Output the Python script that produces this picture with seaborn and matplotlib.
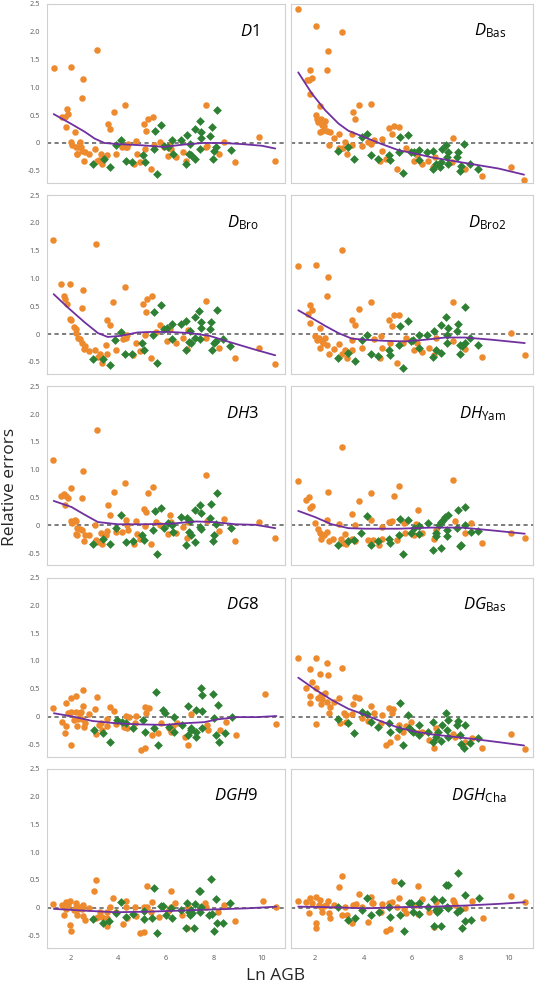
import numpy as np
import pandas as pd
import matplotlib.pyplot as plt
import seaborn as sns
from matplotlib.ticker import MultipleLocator, FuncFormatter

ORANGE = '#EE8A2E'
GREEN = '#2E8034'
PURPLE = '#7030A0'

# (Ln AGB, relative error)
d1_orange = [(1.28,1.35),(1.62,0.46),(1.76,0.47),(1.83,0.62),(1.80,0.29),(1.87,0.52),(2.01,1.37),(2.01,0.02),(2.03,-0.04),(2.17,0.19),(2.20,-0.07),(2.24,-0.20),(2.26,-0.19),(2.31,-0.07),(2.38,0.01),(2.42,-0.07),(2.45,-0.14),(2.52,1.15),(2.49,0.81),(2.56,-0.32),(2.61,-0.16),(2.75,-0.20),(3.00,-0.11),(3.08,1.68),(3.08,-0.32),(3.18,-0.31),(3.25,-0.20),(3.30,-0.38),(3.41,-0.28),(3.52,-0.22),(3.55,0.34),(3.65,0.25),(3.80,0.55),(3.90,-0.19),(4.28,0.68),(4.17,-0.07),(4.31,-0.08),(4.35,-0.07),(4.41,-0.02),(4.66,-0.37),(4.72,0.04),(4.77,-0.19),(4.90,-0.34),(5.07,0.34),(5.10,-0.10),(5.17,0.22),(5.25,0.43),(5.46,0.46),(5.37,-0.47),(5.48,-0.04),(5.73,0.01),(5.90,-0.08),(6.08,-0.23),(6.17,-0.04),(6.20,-0.11),(6.42,-0.26),(6.72,-0.16),(6.86,-0.32),(7.69,0.68),(7.72,-0.05),(7.66,-0.07),(8.21,-0.20),(8.45,0.01),(8.88,-0.35),(9.92,0.10),(10.59,-0.33)]
d1_green = [(2.93,-0.38),(3.39,-0.29),(3.63,-0.44),(3.90,-0.03),(4.13,0.05),(4.31,-0.32),(4.59,-0.35),(5.04,-0.22),(5.10,-0.34),(5.48,-0.11),(5.52,0.22),(5.62,-0.56),(5.81,0.33),(5.90,-0.05),(6.08,-0.07),(6.27,0.05),(6.28,-0.19),(6.61,0.05),(6.83,-0.37),(6.88,0.14),(6.97,-0.20),(7.00,-0.02),(7.03,-0.22),(7.21,-0.28),(7.22,0.25),(7.41,0.40),(7.48,0.19),(7.44,-0.11),(7.47,0.09),(7.83,0.13),(7.92,0.28),(7.97,-0.29),(8.02,-0.14),(8.10,-0.07),(8.14,0.60),(8.72,-0.13)]
d1_curve = [(1.28,0.52),(2.03,0.34),(2.59,0.20),(3.00,0.08),(3.41,0.00),(3.97,-0.02),(4.93,-0.04),(5.90,-0.07),(6.72,-0.03),(7.55,0.00),(8.38,0.00),(9.20,-0.02),(10.03,-0.05),(10.59,-0.10)]

dbas_orange = [(1.28,2.41),(2.02,2.11),(3.10,2.00),(2.54,1.66),(1.80,1.31),(2.49,1.31),(1.65,1.14),(1.74,1.14),(1.86,1.17),(1.79,0.89),(2.20,0.66),(3.81,0.69),(4.30,0.71),(3.55,0.55),(2.02,0.50),(3.65,0.44),(2.06,0.43),(2.24,0.43),(2.41,0.40),(2.13,0.37),(2.30,0.32),(2.38,0.31),(2.21,0.19),(2.27,0.22),(2.48,0.22),(2.63,0.19),(2.79,0.09),(3.00,0.16),(3.23,0.02),(3.51,0.16),(2.59,-0.03),(2.99,-0.09),(3.14,-0.09),(3.32,-0.20),(3.54,-0.04),(3.92,-0.05),(4.20,0.02),(4.41,0.05),(4.31,-0.02),(4.74,0.07),(4.75,-0.14),(4.67,-0.32),(4.92,-0.29),(5.06,0.27),(5.17,0.16),(5.26,0.31),(5.47,0.29),(5.37,-0.46),(5.74,-0.09),(6.09,-0.32),(6.20,-0.22),(6.41,-0.37),(6.68,-0.33),(6.88,-0.44),(6.97,-0.25),(7.69,0.09),(7.65,-0.34),(8.20,-0.47),(8.89,-0.59),(10.08,-0.44),(10.63,-0.66)]
dbas_green = [(2.96,-0.14),(3.37,-0.08),(3.62,-0.28),(3.92,0.11),(4.14,0.16),(4.31,-0.22),(4.61,-0.28),(5.03,-0.21),(5.08,-0.31),(5.52,0.10),(5.83,0.14),(5.48,-0.17),(5.62,-0.54),(5.97,-0.16),(6.10,-0.17),(6.27,-0.13),(6.30,-0.31),(6.64,-0.16),(6.88,-0.14),(6.99,-0.38),(7.17,-0.44),(6.86,-0.47),(7.23,-0.11),(7.39,-0.04),(7.48,-0.17),(7.44,-0.25),(7.48,-0.37),(7.90,-0.17),(7.84,-0.25),(8.16,-0.02),(8.03,-0.41),(7.97,-0.51),(8.41,-0.37),(8.71,-0.47),(7.21,-0.34)]
dbas_curve = [(1.30,1.27),(1.86,0.89),(2.41,0.59),(2.96,0.35),(3.37,0.22),(4.06,0.10),(4.75,-0.02),(5.44,-0.13),(6.13,-0.19),(6.82,-0.26),(7.65,-0.32),(8.48,-0.38),(9.58,-0.46),(10.63,-0.57)]

dbro_orange = [(1.25,1.69),(1.58,0.91),(1.98,0.91),(1.70,0.68),(1.76,0.64),(1.83,0.55),(1.98,0.28),(2.01,0.26),(2.14,0.13),(2.20,0.10),(2.21,0.03),(2.31,-0.06),(2.37,-0.09),(2.45,-0.16),(2.56,-0.26),(2.61,-0.22),(2.75,-0.31),(2.52,0.79),(2.46,0.47),(3.00,-0.29),(3.06,1.63),(3.14,-0.41),(3.23,-0.36),(3.30,-0.51),(3.48,-0.19),(3.50,-0.36),(3.52,0.25),(3.63,0.16),(3.79,0.57),(3.88,-0.28),(4.19,-0.09),(4.27,0.85),(4.31,-0.07),(4.38,-0.01),(4.63,-0.38),(4.72,-0.15),(4.89,-0.31),(5.04,0.54),(5.15,0.40),(5.21,0.64),(5.43,0.68),(5.10,-0.01),(5.36,-0.43),(5.59,0.04),(5.73,0.16),(6.06,-0.13),(6.17,0.10),(6.41,-0.16),(6.70,-0.07),(6.89,-0.26),(6.94,0.08),(7.69,0.59),(7.66,-0.06),(8.21,-0.24),(8.88,-0.42),(9.92,-0.24),(10.59,-0.54)]
dbro_green = [(2.93,-0.45),(3.36,-0.44),(3.63,-0.56),(3.87,-0.11),(4.12,0.04),(4.28,-0.36),(4.59,-0.36),(4.99,-0.16),(5.07,-0.29),(5.44,-0.01),(5.50,0.39),(5.62,-0.52),(5.80,0.52),(5.90,0.09),(6.03,0.11),(6.26,0.19),(6.27,-0.08),(6.61,0.18),(6.83,-0.29),(6.86,0.24),(6.97,-0.14),(7.00,0.06),(7.03,-0.16),(7.21,-0.06),(7.22,0.31),(7.39,0.41),(7.47,0.22),(7.44,-0.08),(7.47,0.11),(7.83,0.10),(7.91,0.22),(7.95,-0.28),(8.01,-0.16),(8.10,-0.12),(8.13,0.43),(8.41,-0.08),(8.71,-0.22)]
dbro_curve = [(1.28,0.72),(1.90,0.47),(2.59,0.21),(3.14,0.02),(3.55,-0.05),(4.10,-0.03),(4.79,0.03),(5.34,0.04),(6.17,0.04),(7.00,0.02),(7.83,-0.03),(8.66,-0.14),(9.76,-0.28),(10.59,-0.38)]

dbro2_orange = [(1.28,1.22),(2.02,1.24),(3.10,1.51),(2.54,1.02),(2.49,0.69),(1.80,0.52),(1.72,0.37),(1.86,0.43),(1.79,0.21),(2.20,0.11),(1.99,-0.03),(2.06,-0.10),(2.16,-0.06),(2.27,-0.12),(2.41,-0.06),(2.21,-0.24),(2.34,-0.16),(2.48,-0.19),(2.57,-0.36),(2.78,-0.26),(3.00,-0.18),(3.12,-0.36),(3.32,-0.43),(3.23,-0.28),(3.54,-0.28),(3.54,0.25),(3.65,0.16),(3.54,-0.10),(3.81,0.46),(3.92,-0.25),(4.31,0.58),(4.41,-0.09),(4.72,-0.03),(4.75,-0.25),(4.68,-0.43),(5.10,-0.16),(5.06,0.25),(5.17,0.14),(5.26,0.34),(5.47,0.35),(5.39,-0.51),(5.61,-0.15),(5.74,-0.06),(6.09,-0.29),(6.20,-0.15),(6.41,-0.32),(6.71,-0.24),(6.89,-0.37),(6.99,-0.06),(7.69,0.57),(7.69,-0.12),(8.20,-0.27),(8.89,-0.41),(10.08,0.02),(10.66,-0.38)]
dbro2_green = [(2.96,-0.43),(3.37,-0.34),(3.65,-0.48),(3.92,-0.10),(4.14,-0.02),(4.31,-0.36),(4.61,-0.39),(5.03,-0.28),(5.10,-0.37),(5.52,0.14),(5.83,0.24),(5.47,-0.19),(5.62,-0.60),(5.95,-0.12),(6.06,-0.10),(6.28,-0.02),(6.30,-0.25),(6.64,-0.02),(6.89,0.06),(6.99,-0.28),(7.21,-0.34),(6.88,-0.41),(7.21,0.16),(7.41,0.31),(7.48,0.11),(7.46,-0.01),(7.44,-0.16),(7.90,0.18),(7.86,0.05),(8.06,-0.21),(8.17,0.49),(7.99,-0.19),(8.41,-0.07),(8.71,-0.19),(8.17,-0.15),(7.99,-0.35)]
dbro2_curve = [(1.30,0.43),(1.86,0.29),(2.41,0.15),(2.96,0.02),(3.51,-0.08),(4.06,-0.10),(4.89,-0.12),(5.72,-0.13),(6.54,-0.10),(7.37,-0.06),(8.20,-0.06),(9.30,-0.10),(10.66,-0.16)]

dh3_orange = [(1.25,1.17),(1.59,0.53),(1.73,0.56),(1.79,0.52),(1.87,0.50),(1.76,0.37),(2.01,0.67),(2.01,0.08),(2.06,0.05),(2.17,0.09),(2.23,0.07),(2.28,-0.05),(2.20,-0.15),(2.24,-0.18),(2.38,-0.06),(2.45,-0.09),(2.48,0.49),(2.53,0.98),(2.56,-0.28),(2.61,-0.18),(2.75,-0.18),(3.00,0.01),(3.08,1.72),(3.04,-0.27),(3.14,-0.30),(3.25,-0.13),(3.30,-0.33),(3.48,-0.18),(3.52,-0.11),(3.55,0.36),(3.65,0.19),(3.80,0.60),(3.90,-0.12),(4.17,-0.12),(4.28,0.76),(4.31,0.09),(4.35,0.01),(4.41,-0.09),(4.66,-0.33),(4.72,0.08),(4.77,-0.16),(4.90,-0.24),(5.07,0.30),(5.10,-0.02),(5.17,0.24),(5.23,0.59),(5.46,0.69),(5.37,-0.34),(5.59,0.06),(5.73,0.00),(6.08,-0.15),(6.17,0.19),(6.20,0.06),(6.42,-0.13),(6.72,-0.03),(6.89,-0.22),(6.93,0.06),(7.69,0.90),(7.72,0.07),(8.21,-0.11),(8.45,0.11),(8.88,-0.28),(9.92,0.06),(10.59,-0.22)]
dh3_green = [(2.93,-0.34),(3.36,-0.25),(3.63,-0.33),(3.90,-0.04),(4.13,0.18),(4.30,-0.30),(4.60,-0.28),(5.01,-0.18),(5.07,-0.27),(5.46,-0.09),(5.52,0.25),(5.63,-0.51),(5.81,0.31),(5.90,-0.04),(6.08,0.04),(6.27,0.01),(6.28,-0.12),(6.64,0.15),(6.86,-0.36),(6.89,0.13),(6.97,-0.12),(7.00,0.07),(7.03,-0.18),(7.21,-0.30),(7.22,0.27),(7.41,0.37),(7.48,0.22),(7.47,-0.06),(7.44,-0.03),(7.83,0.13),(7.91,0.38),(7.97,-0.28),(8.03,-0.18),(8.10,0.03),(8.14,0.58),(8.72,-0.05)]
dh3_curve = [(1.28,0.44),(2.03,0.33),(2.59,0.19),(3.14,0.06),(3.97,0.02),(5.07,0.02),(6.17,0.03),(7.28,0.07),(7.97,0.06),(8.93,0.02),(9.76,0.01),(10.59,-0.05)]

dhyam_orange = [(1.28,0.80),(3.10,1.41),(7.70,0.82),(1.61,0.46),(1.74,0.51),(1.80,0.32),(1.86,0.34),(2.52,0.60),(1.99,0.04),(2.10,-0.07),(2.20,-0.13),(2.24,-0.24),(2.27,-0.18),(2.38,-0.17),(2.49,-0.12),(2.48,0.09),(2.57,-0.28),(2.75,-0.24),(3.00,0.02),(3.05,-0.25),(3.14,-0.32),(3.26,-0.33),(3.23,-0.15),(3.54,-0.24),(3.54,0.21),(3.65,0.00),(3.65,-0.28),(3.81,0.44),(4.20,-0.26),(4.31,0.59),(4.31,0.10),(4.37,-0.26),(4.64,-0.36),(4.75,-0.24),(4.74,-0.03),(5.06,0.06),(5.17,0.07),(5.25,0.53),(5.37,-0.27),(5.47,0.70),(5.65,0.05),(5.72,-0.13),(6.09,-0.18),(6.16,0.03),(6.24,0.28),(6.43,-0.13),(6.89,-0.24),(6.99,-0.09),(7.76,0.07),(8.21,-0.13),(8.45,0.04),(8.90,-0.31),(10.08,-0.14),(10.66,-0.22)]
dhyam_green = [(2.93,-0.36),(3.37,-0.28),(3.62,-0.26),(3.90,-0.13),(4.14,0.17),(4.31,-0.36),(4.61,-0.28),(5.03,-0.24),(5.10,-0.32),(5.52,0.11),(5.83,0.09),(5.47,-0.17),(5.62,-0.52),(5.94,-0.13),(6.09,-0.04),(6.27,-0.01),(6.30,-0.15),(6.66,0.05),(6.88,-0.44),(6.99,-0.13),(6.99,-0.19),(7.19,-0.40),(7.21,0.06),(7.37,0.15),(7.47,0.19),(7.46,-0.08),(7.44,-0.19),(7.90,0.28),(7.86,-0.05),(8.17,0.33),(8.03,-0.36),(7.97,-0.37),(8.42,-0.12),(8.72,-0.11),(8.17,0.01),(7.10,0.00),(7.28,0.09)]
dhyam_curve = [(1.30,0.26),(1.99,0.15),(2.68,0.02),(3.37,-0.05),(4.06,-0.06),(5.44,-0.06),(6.82,-0.04),(8.06,-0.04),(9.30,-0.09),(10.66,-0.15)]

dg8_orange = [(1.26,0.16),(1.61,-0.09),(1.74,-0.30),(1.79,-0.17),(1.81,0.24),(1.88,0.06),(1.99,0.33),(2.02,-0.52),(2.02,0.08),(2.12,-0.06),(2.20,0.37),(2.20,0.08),(2.26,-0.17),(2.30,-0.04),(2.37,0.07),(2.43,0.08),(2.48,-0.04),(2.50,0.47),(2.53,0.19),(2.57,-0.18),(2.61,-0.12),(2.78,0.04),(3.01,0.14),(3.06,-0.31),(3.10,0.36),(3.17,-0.15),(3.26,-0.12),(3.33,-0.24),(3.51,-0.17),(3.54,-0.04),(3.66,0.18),(3.83,0.10),(3.91,-0.14),(4.23,-0.19),(4.34,0.01),(4.37,-0.20),(4.43,0.00),(4.71,-0.11),(4.75,0.01),(4.96,-0.61),(5.12,-0.56),(5.10,0.17),(5.18,0.06),(5.29,0.16),(5.40,-0.33),(5.65,-0.30),(5.79,-0.12),(6.12,-0.20),(6.20,-0.27),(6.30,-0.17),(6.46,-0.12),(6.78,-0.36),(6.92,-0.52),(7.03,0.04),(7.74,-0.15),(7.77,-0.24),(8.27,-0.24),(8.50,-0.09),(8.96,-0.33),(10.16,0.40),(10.64,-0.14)]
dg8_green = [(2.96,-0.24),(3.37,-0.30),(3.65,-0.45),(3.94,-0.06),(4.16,-0.09),(4.32,-0.12),(4.63,-0.20),(5.04,-0.07),(5.12,-0.27),(5.48,-0.21),(5.57,0.44),(5.68,-0.51),(5.86,0.12),(5.95,0.07),(6.12,-0.18),(6.32,0.00),(6.34,-0.27),(6.67,-0.15),(6.92,-0.33),(6.93,0.19),(7.03,-0.20),(7.06,-0.24),(7.25,-0.36),(7.26,0.11),(7.46,0.51),(7.52,0.38),(7.50,0.10),(7.51,-0.20),(7.97,0.41),(8.02,-0.02),(8.09,-0.33),(8.20,0.20),(8.23,-0.46),(8.49,-0.30),(8.79,0.00),(7.28,-0.28)]
dg8_curve = [(1.29,0.06),(2.09,0.00),(2.92,-0.08),(3.88,-0.12),(4.85,-0.14),(5.95,-0.15),(6.78,-0.12),(7.61,-0.10),(8.16,-0.05),(8.99,-0.01),(9.81,-0.01),(10.64,0.01)]

dgbas_orange = [(1.28,1.05),(2.02,1.05),(2.49,0.96),(1.80,0.86),(2.20,0.77),(2.54,0.75),(3.10,0.88),(1.86,0.63),(1.62,0.51),(2.02,0.51),(1.79,0.37),(2.13,0.34),(2.24,0.38),(2.41,0.43),(2.30,0.31),(1.77,0.25),(2.24,0.22),(2.49,0.26),(2.63,0.18),(2.59,0.07),(2.77,0.26),(3.00,0.34),(3.21,0.06),(3.28,0.03),(3.04,-0.11),(3.29,-0.09),(2.03,-0.14),(3.54,0.04),(3.57,0.22),(3.65,0.36),(3.81,0.34),(3.92,-0.02),(4.20,-0.08),(4.31,0.19),(4.41,0.06),(4.75,0.03),(4.72,-0.12),(5.06,0.16),(5.23,0.13),(5.17,0.06),(4.93,-0.51),(5.11,-0.45),(5.39,-0.37),(5.48,-0.15),(5.62,-0.28),(5.74,-0.17),(5.95,-0.09),(6.09,-0.27),(6.23,-0.30),(6.41,-0.27),(6.72,-0.43),(6.89,-0.56),(7.01,-0.20),(6.99,-0.34),(7.69,-0.31),(7.76,-0.37),(8.20,-0.46),(8.48,-0.38),(8.90,-0.57),(10.08,-0.31),(10.66,-0.58)]
dgbas_green = [(2.96,-0.05),(3.37,-0.12),(3.62,-0.30),(3.92,0.08),(4.16,0.04),(4.31,-0.09),(4.61,-0.18),(5.03,-0.11),(5.10,-0.27),(5.52,0.24),(5.83,0.02),(5.47,-0.22),(5.62,-0.52),(5.94,-0.24),(6.06,-0.27),(6.27,-0.15),(6.30,-0.34),(6.66,-0.27),(6.88,-0.09),(6.99,-0.37),(7.19,-0.44),(6.86,-0.45),(7.23,-0.15),(7.40,0.06),(7.48,-0.06),(7.44,-0.24),(7.48,-0.37),(7.92,-0.08),(7.86,-0.15),(8.17,-0.15),(7.99,-0.33),(8.16,-0.57),(8.03,-0.49),(8.41,-0.47),(8.72,-0.38),(5.86,-0.21),(7.07,-0.28)]
dgbas_curve = [(1.30,0.70),(1.99,0.49),(2.68,0.30),(3.37,0.14),(4.06,0.03),(4.75,-0.09),(5.44,-0.20),(6.13,-0.27),(6.82,-0.32),(7.65,-0.36),(8.48,-0.40),(9.58,-0.46),(10.63,-0.52)]

dgh9_orange = [(1.26,0.07),(1.61,0.05),(1.72,-0.13),(1.79,0.10),(1.81,-0.03),(1.88,0.05),(1.98,0.13),(1.98,-0.31),(2.01,-0.41),(2.12,-0.04),(2.20,0.08),(2.20,0.01),(2.26,-0.13),(2.30,-0.02),(2.37,0.01),(2.48,-0.02),(2.50,0.05),(2.53,-0.15),(2.59,-0.22),(2.75,-0.01),(2.99,0.31),(3.06,0.50),(3.06,-0.19),(3.14,-0.16),(3.22,-0.07),(3.29,-0.16),(3.50,-0.32),(3.54,-0.18),(3.54,-0.08),(3.63,0.01),(3.79,0.17),(3.88,-0.07),(4.19,-0.30),(4.30,0.13),(4.32,0.02),(4.37,-0.19),(4.71,0.01),(4.74,-0.15),(4.90,-0.46),(5.08,-0.43),(5.08,0.02),(5.19,0.02),(5.22,0.39),(5.37,-0.07),(5.43,0.10),(5.70,-0.16),(6.09,-0.05),(6.20,0.31),(6.23,0.02),(6.39,0.08),(6.67,-0.13),(6.88,-0.37),(6.94,0.01),(7.63,0.08),(7.68,0.02),(8.19,-0.08),(8.43,0.05),(8.88,-0.24),(10.06,0.13),(10.64,0.02)]
dgh9_green = [(2.92,-0.21),(3.36,-0.27),(3.61,-0.24),(3.88,-0.10),(4.12,0.11),(4.30,-0.16),(4.60,-0.12),(5.06,-0.05),(5.08,-0.21),(5.43,-0.18),(5.51,0.36),(5.62,-0.45),(5.81,0.04),(5.88,0.03),(6.02,-0.13),(6.23,-0.01),(6.27,-0.18),(6.61,-0.04),(6.85,-0.37),(6.88,0.08),(6.96,-0.08),(6.99,-0.13),(7.06,-0.04),(7.17,-0.37),(7.22,0.07),(7.37,0.31),(7.43,0.31),(7.41,-0.07),(7.47,0.02),(7.81,-0.13),(7.88,0.51),(7.95,-0.12),(8.02,-0.41),(8.12,0.15),(8.13,-0.28),(8.41,-0.27),(8.71,0.08),(7.10,-0.10)]
dgh9_curve = [(1.29,-0.02),(2.50,-0.05),(3.88,-0.08),(5.26,-0.07),(6.64,-0.05),(8.02,-0.03),(9.40,-0.01),(10.64,0.02)]

dghcha_orange = [(1.28,0.12),(1.62,0.10),(1.76,-0.09),(1.80,0.17),(1.86,0.08),(2.02,0.19),(2.02,-0.28),(2.05,-0.37),(2.16,0.05),(2.20,0.14),(2.24,0.01),(2.27,-0.08),(2.35,0.04),(2.45,0.05),(2.52,0.12),(2.57,-0.10),(2.63,-0.19),(2.77,0.05),(3.00,0.38),(3.10,0.58),(3.12,-0.13),(3.23,0.01),(3.30,-0.13),(3.54,-0.28),(3.58,0.05),(3.68,0.07),(3.81,0.25),(3.92,0.02),(4.20,-0.25),(4.31,0.19),(4.34,0.09),(4.37,0.09),(4.72,-0.08),(4.75,0.07),(4.93,-0.42),(5.11,-0.38),(5.06,0.09),(5.19,0.10),(5.25,0.48),(5.39,0.01),(5.48,0.17),(5.65,-0.02),(5.74,-0.10),(6.16,0.05),(6.24,0.39),(6.24,-0.12),(6.43,0.16),(6.72,-0.07),(6.89,-0.34),(6.99,0.10),(7.69,0.14),(7.73,0.10),(7.76,0.05),(8.21,-0.01),(8.48,0.12),(8.92,-0.19),(10.10,0.22),(10.68,0.11)]
dghcha_green = [(2.93,0.01),(3.37,-0.22),(3.65,-0.19),(3.92,-0.04),(4.14,0.18),(4.31,-0.13),(4.64,-0.07),(5.06,0.01),(5.11,-0.16),(5.54,0.45),(5.50,-0.13),(5.65,-0.42),(5.86,0.08),(5.94,0.08),(6.06,-0.07),(6.30,0.08),(6.30,-0.12),(6.68,0.02),(6.89,0.16),(6.89,-0.33),(6.99,-0.04),(7.03,-0.07),(7.21,-0.33),(7.23,0.14),(7.41,0.41),(7.48,0.41),(7.46,0.02),(7.48,-0.01),(7.86,-0.07),(7.92,0.62),(7.99,-0.04),(8.06,-0.36),(8.17,0.23),(8.17,-0.24),(8.45,-0.22),(8.75,0.17),(7.10,-0.04)]
dghcha_curve = [(1.30,0.02),(2.68,0.01),(4.06,-0.01),(5.44,0.01),(6.82,0.02),(8.20,0.04),(9.58,0.07),(10.66,0.10)]

panel_labels = [r'$D1$', r'$D_{\mathrm{Bas}}$', r'$D_{\mathrm{Bro}}$', r'$D_{\mathrm{Bro2}}$',
                r'$DH3$', r'$DH_{\mathrm{Yam}}$', r'$DG8$', r'$DG_{\mathrm{Bas}}$',
                r'$DGH9$', r'$DGH_{\mathrm{Cha}}$']
panels = [
    (d1_orange, d1_green, d1_curve),
    (dbas_orange, dbas_green, dbas_curve),
    (dbro_orange, dbro_green, dbro_curve),
    (dbro2_orange, dbro2_green, dbro2_curve),
    (dh3_orange, dh3_green, dh3_curve),
    (dhyam_orange, dhyam_green, dhyam_curve),
    (dg8_orange, dg8_green, dg8_curve),
    (dgbas_orange, dgbas_green, dgbas_curve),
    (dgh9_orange, dgh9_green, dgh9_curve),
    (dghcha_orange, dghcha_green, dghcha_curve),
]

sns.set_style('white')
plt.rcParams['font.family'] = ['Open Sans', 'DejaVu Sans']
plt.rcParams['mathtext.fontset'] = 'custom'
plt.rcParams['mathtext.rm'] = 'Open Sans'
plt.rcParams['mathtext.it'] = 'Open Sans:italic'

W, H = 535, 992
fig = plt.figure(figsize=(W / 100, H / 100), dpi=100)

fmt = FuncFormatter(lambda v, p: '0' if abs(v) < 1e-9 else f'{v:.1f}')

for i, (lab, (orange, green, curve)) in enumerate(zip(panel_labels, panels)):
    row, col = divmod(i, 2)
    left, width = (47, 238) if col == 0 else (291, 242)
    top = 4 + 191.2 * row
    ax = fig.add_axes([left / W, 1 - (top + 179) / H, width / W, 179 / H])

    ax.axhline(0, color='#666666', ls=(0, (2.5, 2)), lw=1.2, zorder=1.5)
    ox, oy = zip(*orange)
    gx, gy = zip(*green)
    cx, cy = zip(*curve)
    sns.scatterplot(x=list(ox), y=list(oy), ax=ax, color=ORANGE, s=22,
                    marker='o', linewidth=0, zorder=2)
    sns.scatterplot(x=list(gx), y=list(gy), ax=ax, color=GREEN, s=20,
                    marker='D', linewidth=0, zorder=2.5)
    sns.lineplot(x=list(cx), y=list(cy), ax=ax, color=PURPLE, lw=1.3,
                 estimator=None, zorder=3)

    ax.set_xlim(1, 11)
    ax.set_ylim(-0.72, 2.5)
    ax.xaxis.set_major_locator(MultipleLocator(2))
    ax.xaxis.set_minor_locator(MultipleLocator(1))
    ax.yaxis.set_major_locator(MultipleLocator(0.5))
    ax.yaxis.set_minor_locator(MultipleLocator(0.25))
    ax.yaxis.set_major_formatter(fmt)
    ax.tick_params(which='both', direction='out', color='#bfbfbf',
                   labelcolor='#595959', labelsize=5.3, width=0.6, pad=2)
    ax.tick_params(which='major', length=3)
    ax.tick_params(which='minor', length=2)
    if col == 1:
        ax.tick_params(labelleft=False)
    if row < 4:
        ax.tick_params(labelbottom=False)
    for sp in ax.spines.values():
        sp.set_color('#d0d0d0')
        sp.set_linewidth(0.8)
    ax.set_xlabel('')
    ax.set_ylabel('')
    ax.text(9.9, 1.93, lab, ha='right', va='baseline', fontsize=12, color='black')

fig.text(0.018, 0.509, 'Relative errors', rotation=90, ha='center', va='center', fontsize=12.5)
fig.text(0.515, 0.008, 'Ln AGB', ha='center', va='bottom', fontsize=12.5)

fig.savefig('out.png', dpi=100)
